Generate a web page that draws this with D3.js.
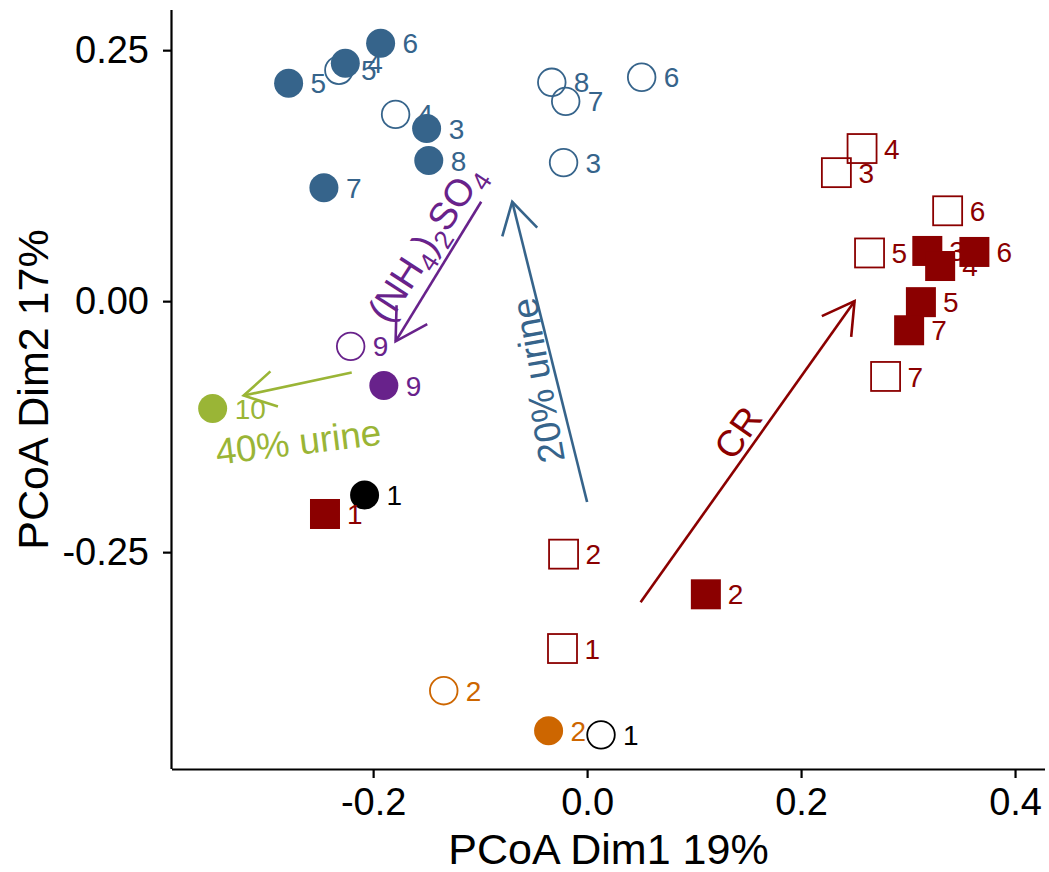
<!DOCTYPE html>
<html><head><meta charset="utf-8">
<script src="https://cdn.jsdelivr.net/npm/d3@7"></script>
<style>
html,body{margin:0;padding:0;background:#fff;}
text{font-family:"Liberation Sans",Arial,Helvetica,sans-serif;}
</style></head>
<body>
<svg id="chart" width="1049" height="872"></svg>
<script>
// ---------- data ----------
const groups      = ["control", "20% urine", "40% urine", "(NH4)2SO4", "CR", "other"];
const groupColors = ["#000000", "#36648B", "#9AB536", "#68228B", "#8B0000", "#CD6600"];

const ptLabel  = [1, 2, 8, 7, 6, 3, 4, 5, 9, 4, 3, 6, 5, 7, 2, 1, 1, 2, 6, 5, 3, 8, 7, 4, 9, 10, 1, 2, 3, 4, 6, 5, 7];
const ptX      = [0.013, -0.134, -0.033, -0.020, 0.051, -0.022, -0.179, -0.232, -0.221, 0.257, 0.233, 0.337, 0.264, 0.279, -0.022, -0.023,
                  -0.208, -0.036, -0.193, -0.279, -0.150, -0.148, -0.246, -0.226, -0.190, -0.350, -0.245, 0.111, 0.318, 0.330, 0.362, 0.312, 0.301];
const ptY      = [-0.432, -0.388, 0.218, 0.199, 0.223, 0.138, 0.186, 0.230, -0.045, 0.152, 0.128, 0.090, 0.048, -0.075, -0.252, -0.346,
                  -0.193, -0.428, 0.257, 0.217, 0.172, 0.140, 0.113, 0.237, -0.084, -0.107, -0.212, -0.292, 0.050, 0.035, 0.049, -0.001, -0.029];
const ptGroup  = ["control", "other", "20% urine", "20% urine", "20% urine", "20% urine", "20% urine", "20% urine", "(NH4)2SO4",
                  "CR", "CR", "CR", "CR", "CR", "CR", "CR",
                  "control", "other", "20% urine", "20% urine", "20% urine", "20% urine", "20% urine", "20% urine", "(NH4)2SO4", "40% urine",
                  "CR", "CR", "CR", "CR", "CR", "CR", "CR"];
const ptFilled = [0, 0, 0, 0, 0, 0, 0, 0, 0, 0, 0, 0, 0, 0, 0, 0,
                  1, 1, 1, 1, 1, 1, 1, 1, 1, 1, 1, 1, 1, 1, 1, 1, 1];
const ptShape  = ["circle", "circle", "circle", "circle", "circle", "circle", "circle", "circle", "circle",
                  "square", "square", "square", "square", "square", "square", "square",
                  "circle", "circle", "circle", "circle", "circle", "circle", "circle", "circle", "circle", "circle",
                  "square", "square", "square", "square", "square", "square", "square"];

const arrowGroup = ["(NH4)2SO4", "40% urine", "20% urine", "CR"];
const arrowX0 = [-0.099, -0.220, 0.000, 0.050];
const arrowY0 = [0.099, -0.071, -0.200, -0.300];
const arrowX1 = [-0.179, -0.321, -0.070, 0.250];
const arrowY1 = [-0.040, -0.094, 0.099, 0.000];

const annoGroup = ["(NH4)2SO4", "40% urine", "20% urine", "CR"];
const annoX     = [-0.151, -0.270, -0.046, 0.141];
const annoY     = [0.058, -0.140, -0.079, -0.131];
const annoAngle = [-57, -7, -100, -55];

const xTicks = [-0.2, 0.0, 0.2, 0.4];
const yTicks = [-0.25, 0.00, 0.25];
const xTitle = "PCoA Dim1 19%";
const yTitle = "PCoA Dim2 17%";

// ---------- scales ----------
const svg = d3.select("#chart");
const pL = 172, pR = 1045, pT = 10, pB = 769;
const x = d3.scaleLinear().domain([-0.388, 0.428]).range([pL, pR]);
const y = d3.scaleLinear().domain([-0.466, 0.290]).range([pB, pT]);
const color = d3.scaleOrdinal().domain(groups).range(groupColors);

// ---------- arrows ----------
const aLen = 36, aAng = Math.PI / 6;
const gA = svg.append("g");
arrowGroup.forEach((g, i) => {
  const x0 = x(arrowX0[i]), y0 = y(arrowY0[i]), x1 = x(arrowX1[i]), y1 = y(arrowY1[i]);
  const th = Math.atan2(y0 - y1, x0 - x1);
  const c = color(g);
  gA.append("line").attr("x1", x0).attr("y1", y0).attr("x2", x1).attr("y2", y1)
    .attr("stroke", c).attr("stroke-width", 2.6);
  const p = d3.path();
  p.moveTo(x1 + aLen * Math.cos(th + aAng), y1 + aLen * Math.sin(th + aAng));
  p.lineTo(x1, y1);
  p.lineTo(x1 + aLen * Math.cos(th - aAng), y1 + aLen * Math.sin(th - aAng));
  gA.append("path").attr("d", p.toString()).attr("fill", "none")
    .attr("stroke", c).attr("stroke-width", 2.6).attr("stroke-linejoin", "miter");
});

// ---------- annotations ----------
annoGroup.forEach((g, i) => {
  const t = svg.append("text")
    .attr("transform", `translate(${x(annoX[i])},${y(annoY[i])}) rotate(${annoAngle[i]})`)
    .attr("text-anchor", "middle").attr("dy", "0.35em")
    .attr("font-size", 37).attr("fill", color(g));
  if (g === "(NH4)2SO4") {
    t.attr("font-size", 38);
    t.append("tspan").text("(NH");
    t.append("tspan").attr("dy", 9).attr("font-size", 26).text("4");
    t.append("tspan").attr("dy", -9).text(")");
    t.append("tspan").attr("dy", 9).attr("font-size", 26).text("2");
    t.append("tspan").attr("dy", -9).text("SO");
    t.append("tspan").attr("dy", 9).attr("font-size", 26).text("4");
  } else {
    t.text(g);
  }
});

// ---------- points + labels ----------
const gP = svg.append("g");
ptLabel.forEach((lab, i) => {
  const cx = x(ptX[i]), cy = y(ptY[i]), c = color(ptGroup[i]);
  const filled = ptFilled[i] === 1;
  if (ptShape[i] === "circle") {
    gP.append("circle").attr("cx", cx).attr("cy", cy).attr("r", filled ? 14.5 : 13.8)
      .attr("fill", filled ? c : "none").attr("stroke", filled ? "none" : c).attr("stroke-width", 1.8);
  } else {
    const s = filled ? 30 : 29;
    gP.append("rect").attr("x", cx - s / 2).attr("y", cy - s / 2).attr("width", s).attr("height", s)
      .attr("fill", filled ? c : "none").attr("stroke", filled ? "none" : c).attr("stroke-width", 1.8);
  }
  gP.append("text").attr("x", cx + 22).attr("y", cy).attr("dy", "0.36em")
    .attr("font-size", 28).attr("fill", c).text(lab);
});

// ---------- axes ----------
const fmtX = v => d3.format(".1f")(v).replace("\u2212", "-");
const fmtY = v => d3.format(".2f")(v).replace("\u2212", "-");
const xAxis = svg.append("g").attr("transform", `translate(0,${pB})`)
  .call(d3.axisBottom(x).tickValues(xTicks).tickFormat(fmtX).tickSize(9).tickPadding(10).tickSizeOuter(0));
const yAxis = svg.append("g").attr("transform", `translate(${pL},0)`)
  .call(d3.axisLeft(y).tickValues(yTicks).tickFormat(fmtY).tickSize(9).tickPadding(14).tickSizeOuter(0));
[xAxis, yAxis].forEach(a => {
  a.select(".domain").attr("stroke", "#000").attr("stroke-width", 2.2);
  a.selectAll(".tick line").attr("stroke", "#000").attr("stroke-width", 2.2);
  a.selectAll(".tick text").attr("font-size", 38).attr("fill", "#000")
    .attr("font-family", "Liberation Sans, Arial, sans-serif");
});
xAxis.select(".domain").attr("d", `M${pL},0.5H${pR}`);
yAxis.select(".domain").attr("d", `M-0.5,${pT}V${pB}`);

svg.append("text").attr("x", (pL + pR) / 2).attr("y", 864).attr("text-anchor", "middle")
  .attr("font-size", 43).attr("fill", "#000").text(xTitle);
svg.append("text").attr("transform", `translate(48,${(pT + pB) / 2}) rotate(-90)`)
  .attr("text-anchor", "middle").attr("font-size", 43).attr("fill", "#000").text(yTitle);
</script>
</body></html>
